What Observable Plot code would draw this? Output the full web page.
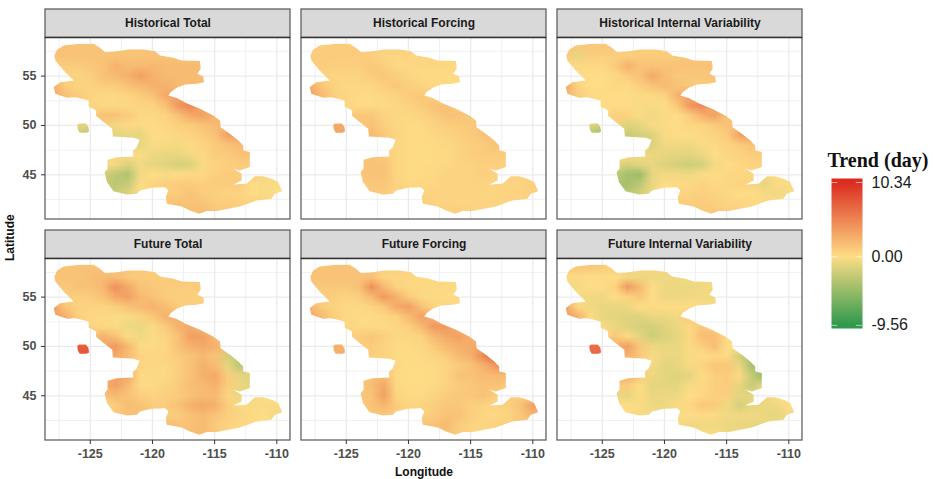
<!DOCTYPE html>
<html><head><meta charset="utf-8">
<style>html,body{margin:0;padding:0;background:#fff}#c{position:relative;width:936px;height:479px;overflow:hidden}#c svg{position:absolute}</style>
<script src="https://cdn.jsdelivr.net/npm/d3@7"></script>
<script src="https://cdn.jsdelivr.net/npm/@observablehq/plot@0.6"></script>
</head><body><div id="c"></div>
<script>
const rowNames = ["Historical","Future"];
const colNames = ["Total","Forcing","Internal Variability"];
const lons = [-128,-127,-126,-125,-124,-123,-122,-121,-120,-119,-118,-117,-116,-115,-114,-113,-112,-111,-110,-109];
const lats = [58,57,56,55,54,53,52,51,50,49,48,47,46,45,44,43,42,41];
const xMajor = [-125,-120,-115,-110];
const xMinor = [-127.5,-122.5,-117.5,-112.5];
const yMajor = [45,50,55];
const yMinor = [42.5,47.5,52.5,57.5];
const legendTicks = [-9.56,0,10.34];
const basinLon = [-127.89,-127.67,-127.14,-125.8,-124.73,-124.2,-123.8,-123,-121.93,-120.72,-119.79,-119.39,-118.32,-117.65,-116.18,-116.12,-116.39,-115.91,-115.86,-116.44,-117.38,-118.05,-118.53,-118.72,-118.05,-117.25,-116.18,-115.11,-114.57,-114.52,-113.77,-113.1,-112.7,-112.7,-112.17,-112.17,-112.97,-113.5,-112.83,-112.83,-113.5,-112.43,-111.76,-111.1,-110.43,-109.89,-109.57,-110.16,-110.43,-111.63,-112.97,-114.84,-115.64,-116.23,-116.98,-117.65,-118.85,-118.93,-118.72,-118.98,-120.05,-120.99,-121.26,-122.06,-123.13,-123.66,-123.85,-123.61,-123.61,-122.86,-121.52,-121.58,-121.26,-121.04,-121.52,-123.18,-123.24,-123.93,-124.55,-124.52,-125.13,-125.13,-126.2,-126.87,-127.81,-127.94,-127.41,-126.34,-127.14,-127.81];
const basinLat = [57.09,57.67,58.11,58.28,58.28,57.84,57.43,57.5,57.7,57.7,57.53,57.09,56.86,56.59,56.52,55.74,55.24,54.97,54.39,54.22,54.16,53.82,53.38,53.04,52.77,52.26,51.69,51.01,50.51,49.83,49.16,48.48,47.97,47.47,47.3,45.78,45.44,45.61,45.1,44.43,44.02,44.09,44.86,44.86,44.59,44.26,43.34,43.07,42.57,42.4,41.79,41.32,41.32,41.05,41.39,41.79,42.06,42.74,43.41,43.75,43.68,43.41,43.07,43.01,43.34,44.26,45.27,45.61,46.52,46.79,46.86,47.4,47.8,48.55,48.75,48.89,49.66,50.34,51.01,51.52,51.93,52.53,52.87,52.8,53.21,53.89,54.39,54.56,55.57,56.59];
const islandLon = [-126.05,-125.9,-125.35,-125.15,-125.1,-125.3,-125.85,-126];
const islandLat = [50.05,50.2,50.2,49.85,49.4,49.25,49.25,49.6];

const histTotal = [
[1.5,1.5,1.5,1.5,1.5,1.5,1.5,1.5,1.5,1.5,1.5,1.5,1.5,1,1,1,1,1,1,1],
[1.5,1.5,1.5,1.5,1.5,1.5,1.5,1.5,1.5,1.5,1.5,1.5,1.5,1.5,1,1,1,1,1,1],
[1,1,1,1.2,1.5,2.5,2,2,2.2,2,2,2,2,2,1,1,1,1,1,1],
[.5,.5,.5,.8,1.5,2,2.5,3.5,2.5,2,2,2,2,2,1,1,1,1,1,1],
[2.5,1,.5,.5,1,1,1.5,2,2.5,2.5,2,2,2,2,1,1,1,1,1,1],
[3,1.5,1,.5,.3,.3,.5,1,1.5,3,3.5,2,2,2,1,1,1,1,1,1],
[2,1.5,1,.5,.3,.3,.3,.5,.6,1.5,4,5,3,2,2,1,1,1,1,1],
[1,1,1,1,1.5,1.5,1,.3,.3,.5,1.5,3,3.5,2.5,2,2,1,1,1,1],
[0,-1,-1.2,-1.5,1,-.5,.3,.2,.2,.3,.8,1,1.5,2,2,2,1,1,1,1],
[0,-1,-2.5,-3,-1,-1.2,-1,-1,0,.1,.3,.5,1,1.5,3.5,3.5,2,1,1,1],
[0,0,0,0,0,-1,-1,-1,-.2,-.3,-.5,.1,.5,1,1.5,2,2,1,1,1],
[0,0,0,0,0,.5,.3,-.2,-.8,-1,-1,-.5,.3,1,1,1.5,1.5,1,1,1],
[0,0,0,0,-.5,-.5,-1.5,-.5,-1,-1.2,-1.8,-1.5,-.3,.5,.8,1,1,1,1,1],
[0,0,0,0,-2,-3,-3.5,-.5,0,-.3,0,.3,.3,.8,1,1,1,.5,.5,.5],
[0,0,0,0,-2.5,-3,-2.5,-.2,.5,.8,1,1,.8,1,1,1,0,-.3,-.2,0],
[0,0,0,0,-2.5,-2.5,-1.5,0,.5,1,1,1.5,1,.8,.5,.5,0,-.3,0,0],
[0,0,0,0,0,0,0,0,1,1.5,1.5,1.5,1.5,1,1,.8,.8,.5,0,0],
[0,0,0,0,0,0,0,0,1,1.5,1.5,2,2,1.5,1,1,1,.5,0,0]];
const histForcing = [
[1,1,1,1,1,1,.8,.8,.8,.8,.8,.8,.8,.8,.8,.5,.5,.5,.5,.5],
[1,1,1,1,1,.8,.4,.4,.4,.5,.5,.5,.5,.5,.5,.5,.5,.5,.5,.5],
[1,1,.8,.8,.8,1.2,.8,.3,.3,.3,.3,.3,.3,.3,.3,.3,.3,.3,.3,.3],
[.6,.6,.5,.5,.6,1,1.2,.8,.4,.2,.2,.2,.2,.2,.2,.2,.2,.2,.2,.2],
[3,1.2,.5,.3,.3,.4,.8,1.2,.8,.5,.3,.2,.2,.2,.2,.2,.2,.2,.2,.2],
[3.5,2,.8,.4,.2,.2,.3,.6,1,1.2,.8,.5,.5,.5,.5,.5,.5,.5,.5,.5],
[2,1.5,.8,.4,.2,.2,.2,.3,.6,1,1.5,1.5,1,.8,.8,.8,.8,.5,.5,.5],
[1,1,1,1,1.2,1.2,.6,.3,.3,.5,1,1.5,1.5,1.2,1,1,.8,.5,.5,.5],
[1,3,3,3,1.2,1.5,.8,.3,.2,.2,.5,.8,1,1.2,1.2,1,.8,.5,.5,.5],
[1,3,3.2,3.2,1.5,2,1.2,.5,.2,.2,.3,.5,.8,1,1.5,1.5,1,.5,.5,.5],
[.5,.5,.5,.5,.5,.8,.5,.3,.2,.2,.2,.3,.5,.8,1,1.5,1.2,.5,.5,.5],
[.5,.5,.5,.5,1,1.5,1,.4,.2,.2,.2,.2,.5,.8,1,1,1,.5,.5,.5],
[.5,.5,.5,.8,1.2,1.5,1.5,.4,.2,.2,.2,.3,.5,.6,.8,.8,.6,.5,.5,.5],
[.5,.5,.5,1,1.2,1.5,1.5,.4,.2,.2,.3,.5,.5,.6,.8,.6,.5,.5,.5,.5],
[.5,.5,.5,1,1,1.2,1.2,.6,.3,.3,.4,.5,.5,.5,.5,.5,.5,.6,.8,.8],
[.5,.5,.5,1,1,1.2,1,.6,.5,.5,.5,.5,.5,.5,.4,.4,.5,.6,.8,.8],
[.5,.5,.5,.5,.5,.5,.5,.5,.8,.8,.6,.6,.5,.5,.5,.5,.6,.6,.5,.5],
[.5,.5,.5,.5,.5,.5,.5,.5,.8,.8,.8,.8,.8,.6,.5,.5,.5,.5,.5,.5]];
const histInternal = [
[1.2,1.2,1.2,1.2,1.2,1,1,1,1,1,1,1,1,1,1,1,1,1,1,1],
[1,-1,.8,.8,.8,.8,1,1,1,1,1.2,1.2,1.2,1,1,1,1,1,1,1],
[.3,.3,.3,.3,1,2.5,1.5,1.5,1.5,1.5,1.5,1.5,1.5,1.5,1,1,1,1,1,1],
[0,0,0,0,.3,1,1.5,3,1.8,1.2,1.2,1.2,1.5,1.5,1,1,1,1,1,1],
[3,.5,0,0,.3,.2,.8,1.5,2,1.5,1.2,1,1,1,1,1,1,1,1,1],
[2.5,1,.3,.1,0,0,-.2,.2,.6,2.5,3.5,1.5,1,1,1,1,1,1,1,1],
[1,1,.5,.1,0,-.1,-.3,-.3,0,1.2,4,5,2.5,1.5,1,1,1,1,1,1],
[0,0,0,0,.8,.5,-.2,-.5,-.3,0,1,2.5,3.5,1.5,1,1,1,1,1,1],
[0,-1.5,-1.5,-2,.5,-1.5,-1,-.3,-.2,0,.4,.5,1,1.5,1.5,1,1,1,1,1],
[0,-2,-3,-5,-1,-2.5,-2,-1.5,-.3,0,0,.2,.6,1,3.5,4,1.5,1,1,1],
[0,0,0,0,-1,-1.5,-1.5,-1.5,-.5,-.5,-.7,-.2,.2,.5,1,1.5,1,1,1,1],
[0,0,0,0,-.3,0,-.5,-.8,-1,-1.2,-1.2,-.8,0,.4,.6,1,1,1,1,1],
[0,0,0,-.5,-1,-1.8,-1.2,-1,-1.5,-1.8,-2.2,-1.8,-.5,0,.3,.5,.5,.5,.5,.5],
[0,0,0,-2,-3,-4,-4.5,-1,-.5,-.5,-.5,-.2,0,.3,.4,.4,-.5,0,0,0],
[0,0,0,-2.5,-3.5,-4,-3,-.8,0,.2,.3,.5,.3,.3,.5,.5,-1,-.3,-.3,-.3],
[0,0,0,-2.5,-3,-3,-2,-.5,0,.5,.5,.8,.5,.3,0,0,-.3,-.5,-.3,-.3],
[0,0,0,0,0,0,0,0,.8,1,1,1,.8,.5,.5,.3,.2,0,-.2,-.2],
[0,0,0,0,0,0,0,0,1,1,1,1.2,1.2,1,.5,.3,.2,0,-.2,-.2]];
const futTotal = [
[1.5,1.5,1.5,1.5,1.5,1.5,1.2,1.2,1.2,1.2,1.2,1,1,1,1,1,1,1,1,1],
[1.5,1.5,1.5,1.8,2,1.8,1.2,1,1,1,1.2,1.2,1.2,1,1,1,1,1,1,1],
[1.5,1.2,1.5,1.5,2.2,4.5,3,1.5,1.2,1,1,1,1,1,1,1,1,1,1,1],
[1,1,.8,1,1.5,3,3.5,2,1.5,1,.8,.8,.8,.8,.8,.8,.8,.8,.8,.8],
[3.5,1.2,.6,.5,.5,.8,1.5,2,2.5,1.8,1,.8,.8,.8,.8,.8,.8,.8,.8,.8],
[4,2.5,.8,.3,.2,-.2,-.3,.5,1.2,2.5,2.5,1.2,1,1,1,1,1,1,1,1],
[2,1.5,1,.5,.3,-.2,-.7,-.8,-.3,1,2.5,3,1.8,1.2,1,1,1,1,1,1],
[1,1,1,1,2.5,1.5,-.2,-.7,-.2,.5,1.5,3.5,3.5,2,1.5,1,1,1,1,1],
[5,7,7.5,7.5,3,4,2,.2,.2,.3,1.5,2.5,3,2.5,2,1,1,1,1,1],
[5,7.5,8,8,3,3,2,.5,.3,.5,1,1.5,2,1.5,-2,-3,-1,0,0,0],
[1,1,1,1,1,1,1,.5,.3,.3,.8,1.5,2.5,2,-1,-3,-1.5,-1,0,0],
[1,1,1,1,2,3.5,3,.2,-.3,.2,.8,1.5,2.5,3,1,-1,-1.5,-1,0,0],
[1,1,1,2,2.5,3.5,2,.2,.2,.5,1,1.8,2,2.5,1,-.8,-1.2,-1,0,0],
[1,1,1,1.5,1.5,2,1.5,.8,.5,.8,1,1.5,2,2,.5,-.8,-.5,0,0,0],
[1,1,1,-.3,-.3,1,1.8,1.5,1,1,1.5,2.5,3,2.5,1,-.3,-.3,-.2,.3,.8],
[1,1,1,0,0,1.2,1.5,1.5,1,.8,1,1.5,2,1.5,.8,.5,.2,0,-.6,-.3],
[1,1,1,1,1,1,1,1,1.5,2,1.5,1.5,2,1,.5,.3,.3,.2,.2,0],
[1,1,1,1,1,1,1,1,2,2,2,2,2,1.5,.5,.3,.3,.2,.2,0]];
const futForcing = [
[1.5,1.5,1.5,1.5,1.5,1.5,.8,.8,.8,.4,.4,.4,.4,.4,.4,.4,.4,.4,.4,.4],
[1.5,1.5,1.5,1.5,1.5,1.5,.5,.4,.4,.3,.3,.3,.3,.3,.3,.3,.3,.3,.3,.3],
[1.5,1.2,1.2,1.2,1.5,4.5,2,.6,.3,.3,.3,.2,.2,.2,.2,.2,.2,.2,.2,.2],
[1,1,.8,.6,.8,2,4,2.5,1,.3,.2,.2,.2,.2,.2,.2,.2,.2,.2,.2],
[2.5,1,.5,.3,.3,.5,1.2,3,3.5,1.5,.5,.3,.2,.2,.2,.2,.2,.2,.2,.2],
[3,2,.8,.3,.2,.2,.3,.7,2,3.5,2.5,1,1,1,1,1,1,1,1,1],
[2,1.5,.8,.4,.2,.2,.2,.3,.8,2,4,4,2.5,1.5,1,1,1,1,1,1],
[1,1,1,1,1,1.2,.8,.3,.3,.6,2,3,3.5,2.5,2,1,1,1,1,1],
[1.5,2,2.5,2.5,.8,1,.5,.2,.2,.3,1,2,2.5,3,3,2,1,1,1,1],
[1.5,2.2,2.8,3,.5,.8,.5,.2,.1,.2,.5,1,2,2.5,5,7,3,1,1,1],
[.5,.5,.5,.5,.5,.5,.5,.3,.1,.1,.1,.5,1,1.5,2.5,4,5,2.5,1,1],
[.5,.5,.5,.5,1.2,1.8,2,.2,.1,.1,.2,.5,1.5,1.5,2,2,2,1,1,1],
[.5,.5,.5,1.2,1.2,1.8,3,.3,.1,.1,.2,.5,1,1.2,1.5,1.5,1,.5,.5,.5],
[.5,.5,.5,1.5,1.2,1.5,3.5,.5,.2,.2,.5,1,1.2,1.2,1.5,1,.8,.8,1,1],
[.5,.5,.5,1.2,1,1.5,2.2,1,.4,.5,.8,1.2,1.2,.8,.6,.5,.8,1.5,3.5,2.5],
[.5,.5,.5,1,1,1.2,1.2,.8,.5,.8,1,1.5,1.5,.8,.4,.3,.5,1.2,2.5,2],
[.5,.5,.5,.5,.5,.5,.5,.5,.8,1.5,1.5,2,1,.5,.4,.5,.8,1,.8,.8],
[.5,.5,.5,.5,.5,.5,.5,.5,.8,1.5,1.5,1.5,1,.5,.4,.5,.8,1,.8,.8]];
const futInternal = [
[1.2,1.2,1.2,1,1,1,.5,.5,.5,.5,.5,.5,.5,.5,.5,.5,.5,.5,.5,.5],
[.2,.2,0,-.2,0,-.6,-.7,-.7,-.7,-.6,-.6,-.5,-.5,-.5,-.5,-.5,-.5,-.5,-.5,-.5],
[-.5,-.4,0,0,.6,4,2,0,-.7,-.8,-.7,-.6,-.5,-.5,-.5,-.5,-.5,-.5,-.5,-.5],
[-.4,-.3,-.6,-.7,0,.6,1.2,0,-.8,-.8,-.6,-.5,-.5,-.5,-.5,-.5,-.5,-.5,-.5,-.5],
[3.5,.3,-.6,-.9,-1,-.8,0,.2,0,0,0,-.3,-.3,-.3,-.3,-.3,-.3,-.3,-.3,-.3],
[4,2.5,0,-1,-1.2,-1.4,-1.4,-.8,-.8,-.6,1.2,0,-.3,-.3,-.3,-.3,-.3,-.3,-.3,-.3],
[1,1,.3,-.3,-.8,-1.4,-1.8,-2,-1.3,-.8,.3,1.3,.3,-.3,-.3,-.3,-.3,-.3,-.3,-.3],
[0,0,0,0,1.2,.2,-1.2,-2.2,-1.6,-1.1,.3,1.8,1.8,-.3,-.3,-.3,-.3,-.3,-.3,-.3],
[4,6,6.5,6.5,2.5,3.5,1.2,-.7,-.9,-.9,.2,.8,1.8,0,0,0,0,0,0,0],
[4,6.5,7,7,2.5,2.5,1.2,-.3,-.9,-.9,-.3,0,.3,.2,-2,-4,-2,0,0,0],
[0,0,0,0,0,1,.3,-.5,-1.2,-1,-.3,.6,1.3,1.3,-.8,-4,-3,0,0,0],
[0,0,0,0,2,3,1.2,-.7,-1.2,-1.4,-1.2,0,.8,1,.2,-2.5,-5,-3,0,0],
[0,0,0,1,1.2,1,0,-1.2,-1.2,-1.2,-.3,.3,.8,1,-1,-2.5,-1,0,0,0],
[0,0,0,.3,-.8,-1,.2,-.9,-.7,-.7,0,.3,.8,.8,-1.2,-1.2,-.8,0,0,0],
[0,0,0,-.6,0,0,-.3,-.7,-.7,-.3,.3,1.2,1,-.6,-1.8,-1,-.8,-.7,0,0],
[0,0,0,-.8,.2,.2,-.3,-.3,-.7,-.3,0,.2,.2,-.6,-.6,-.6,-.8,-1,-.6,-.6],
[0,0,0,0,0,0,0,0,.3,-.3,-.8,-.6,-.6,-.8,-.8,-1,-.8,-.6,-.6,-.6],
[0,0,0,0,0,0,0,0,.3,0,-.3,-.3,-.3,-.6,-.8,-.8,-.8,-.6,-.6,-.6]];

const panels = [
  {row:"Historical",col:"Total",grid:histTotal},
  {row:"Historical",col:"Forcing",grid:histForcing},
  {row:"Historical",col:"Internal Variability",grid:histInternal},
  {row:"Future",col:"Total",grid:futTotal},
  {row:"Future",col:"Forcing",grid:futForcing},
  {row:"Future",col:"Internal Variability",grid:futInternal}
];
const cells = panels.flatMap(p => p.grid.flatMap((vals,i) => vals.map((v,j) => ({row:p.row,col:p.col,lon:lons[j],lat:lats[i],v}))));

const xMin=-128.6,xMax=-108.9,yMin=40.47,panelTop=58.9,stripTop=61.75;
const colorScale = {type:"linear",domain:[-9.56,0,10.34],range:["#2f9a4c","#fedd86","#dc2c20"],clamp:true};
const font = "'Liberation Sans',Arial,sans-serif";
let clipN = 0;
function clipToBasin(index,scales,values,dimensions,context,next){
  const g = next(index,scales,values,dimensions,context);
  const ns = "http://www.w3.org/2000/svg", id = "basin"+(++clipN);
  const ring = (X,Y) => "M"+X.map((x,i)=>scales.x(x)+","+scales.y(Y[i])).join("L")+"Z";
  const cp = context.document.createElementNS(ns,"clipPath"); cp.setAttribute("id",id);
  const p = context.document.createElementNS(ns,"path");
  p.setAttribute("d",ring(basinLon,basinLat)+ring(islandLon,islandLat));
  cp.appendChild(p); g.appendChild(cp); g.setAttribute("clip-path","url(#"+id+")");
  return g;
}
const frameBox=[{x1:xMin,x2:xMax,y1:yMin,y2:panelTop}], stripBox=[{x1:xMin,x2:xMax,y1:panelTop,y2:stripTop}];
const grid = (data,w,axis) => axis==="x"
  ? Plot.ruleX(data,{x:d=>d,y1:yMin,y2:panelTop,stroke:"#ebebeb",strokeWidth:w})
  : Plot.ruleY(data,{y:d=>d,x1:xMin,x2:xMax,stroke:"#ebebeb",strokeWidth:w});
const main = Plot.plot({
  width:936,height:479,marginTop:9,marginRight:133,marginBottom:39,marginLeft:45,
  style:{fontFamily:font,background:"#fff"},
  x:{domain:[xMin,xMax]},
  y:{domain:[yMin,stripTop]},
  fx:{domain:colNames,axis:null,paddingInner:0.0415,paddingOuter:0},
  fy:{domain:rowNames,axis:null,paddingInner:0.05,paddingOuter:0},
  color:colorScale,
  marks:[
    grid(xMinor,.7,"x"),grid(yMinor,.7,"y"),grid(xMajor,1.3,"x"),grid(yMajor,1.3,"y"),
    Plot.raster(cells,{x:"lon",y:"lat",fill:"v",fx:"col",fy:"row",x1:-128.5,x2:-108.5,y1:40.5,y2:58.5,width:20,height:18,render:clipToBasin}),
    Plot.rect(frameBox,{x1:"x1",x2:"x2",y1:"y1",y2:"y2",stroke:"#555",strokeWidth:1.2,fill:"none"}),
    Plot.rect(stripBox,{x1:"x1",x2:"x2",y1:"y1",y2:"y2",stroke:"#555",strokeWidth:1.2,fill:"#d9d9d9"}),
    Plot.ruleY([panelTop],{x1:xMin,x2:xMax,stroke:"#333",strokeWidth:1.2}),
    Plot.text(panels,{fx:"col",fy:"row",x:(xMin+xMax)/2,y:(panelTop+stripTop)/2,text:d=>d.row+" "+d.col,fontWeight:"bold",fontSize:12,fill:"#1a1a1a"}),
    Plot.axisX({ticks:xMajor,tickFormat:d=>String(d),label:null,anchor:"bottom",tickSize:4,tickPadding:5,fontWeight:"bold",fontSize:12.5,fill:"#4d4d4d",stroke:"#333"}),
    Plot.axisY({ticks:yMajor,tickFormat:d=>String(d),label:null,anchor:"left",tickSize:4,tickPadding:5,fontWeight:"bold",fontSize:12.5,fill:"#4d4d4d",stroke:"#333"}),
    Plot.text(["Longitude"],{facet:"super",frameAnchor:"bottom",dy:35,text:d=>d,fontWeight:"bold",fontSize:12,fill:"#111"}),
    Plot.text(["Latitude"],{facet:"super",frameAnchor:"left",dx:-35,dy:36,rotate:-90,text:d=>d,fontWeight:"bold",fontSize:12,fill:"#111"})
  ]
});
document.getElementById("c").append(main);
main.style.left="0";main.style.top="0";

const legend = Plot.plot({
  width:121,height:195,marginTop:33,marginRight:74,marginBottom:12,marginLeft:16,
  style:{fontFamily:font,background:"transparent"},
  x:{domain:[0,1],axis:null},
  y:{domain:[-10.0,10.9],axis:null},
  color:colorScale,
  marks:[
    Plot.raster({x1:0,x2:1,y1:-10.0,y2:10.9,width:1,height:150,fill:(x,y)=>y}),
    Plot.ruleY(legendTicks,{x1:0,x2:.2,stroke:"#fff",strokeOpacity:.6,strokeWidth:1}),
    Plot.ruleY(legendTicks,{x1:.8,x2:1,stroke:"#fff",strokeOpacity:.6,strokeWidth:1}),
    Plot.text(legendTicks,{x:1,y:d=>d,text:d=>d.toFixed(2),textAnchor:"start",dx:9,fontSize:16,fill:"#1a1a1a"}),
    Plot.text(["Trend (day)"],{frameAnchor:"top-left",dx:-4,dy:-26,text:d=>d,textAnchor:"start",fontFamily:"'Liberation Serif','Times New Roman',serif",fontWeight:"bold",fontSize:20,fill:"#111"})
  ]
});
document.getElementById("c").append(legend);
legend.style.left="815px";legend.style.top="145px";
</script></body></html>
